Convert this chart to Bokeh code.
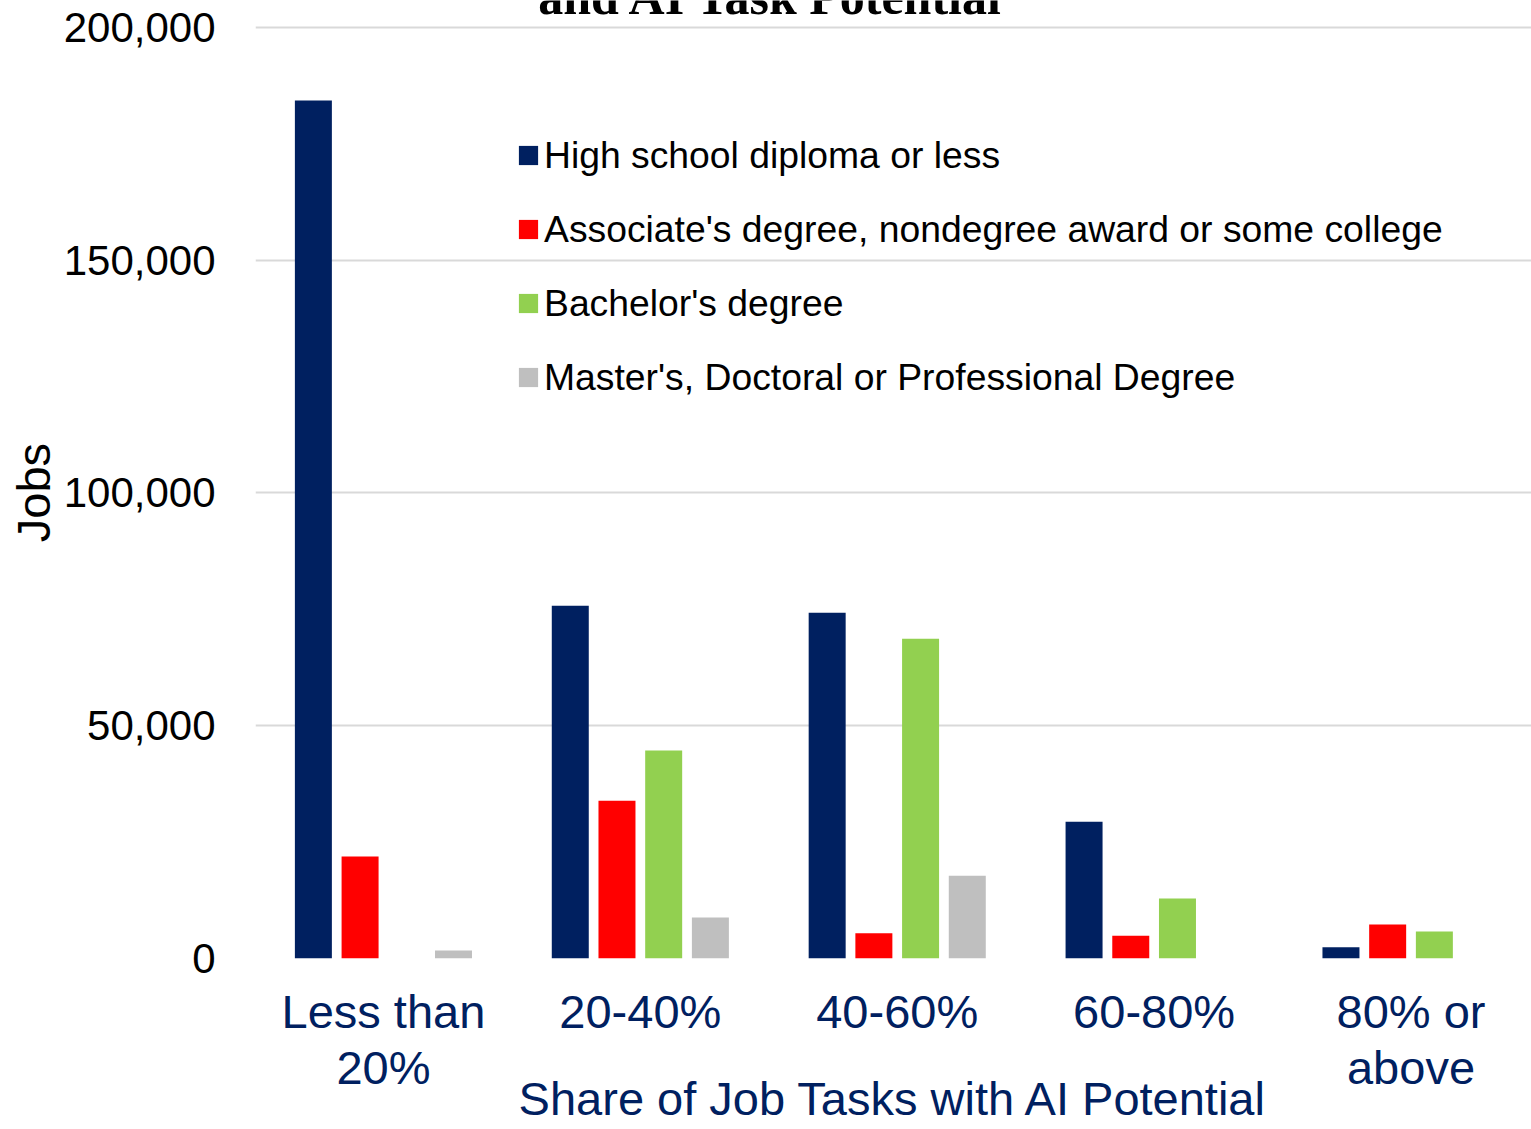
from bokeh.plotting import figure
from bokeh.models import (ColumnDataSource, Range1d, FixedTicker, NumeralTickFormatter,
                          Legend, LegendItem, Label)
from bokeh.transform import dodge
from bokeh.embed import file_html
from bokeh.resources import INLINE

# data
categories = ["Less than\n20%", "20-40%", "40-60%", "60-80%", "80% or\nabove"]
series = ["High school diploma or less",
          "Associate's degree, nondegree award or some college",
          "Bachelor's degree",
          "Master's, Doctoral or Professional Degree"]
high_school = [184300, 75800, 74300, 29400, 2400]
associate = [21900, 33900, 5400, 4900, 7300]
bachelor = [0, 44700, 68700, 12900, 5800]
master = [1700, 8800, 17800, 0, 0]
y_ticks = [0, 50000, 100000, 150000, 200000]

colors = ["#002060", "#FF0000", "#92D050", "#BFBFBF"]
navy = "#002060"
font = "Liberation Sans"

source = ColumnDataSource(data=dict(
    x=list(range(len(categories))),
    hs=high_school, assoc=associate, bach=bachelor, mast=master,
))

# frame runs to the top edge so the cut-off title can sit inside it
p = figure(width=1531, height=1129, output_backend="svg", toolbar_location=None,
           x_range=Range1d(-0.498, 4.469), y_range=Range1d(0, 205800),
           min_border_left=255, min_border_right=0, min_border_top=0,
           min_border_bottom=171)
p.outline_line_color = None

step = 0.1818
renderers = []
for i, col in enumerate(["hs", "assoc", "bach", "mast"]):
    r = p.vbar(x=dodge("x", (i - 1.5) * step, range=p.x_range), top=col, width=0.144,
               source=source, fill_color=colors[i], line_color=None)
    renderers.append(r)

# y axis
p.yaxis.ticker = FixedTicker(ticks=y_ticks)
p.yaxis.formatter = NumeralTickFormatter(format="0,0")
p.yaxis.major_label_text_font = font
p.yaxis.major_label_text_font_size = "42px"
p.yaxis.major_label_text_color = "black"
p.yaxis.axis_line_color = None
p.yaxis.major_tick_line_color = None
p.yaxis.minor_tick_line_color = None
p.yaxis.major_tick_out = 0
p.yaxis.major_label_standoff = 40
# trailing no-break spaces nudge the label down to sit on the 100,000 line
p.yaxis.axis_label = "Jobs\u00a0\u00a0"
p.yaxis.axis_label_text_font = font
p.yaxis.axis_label_text_font_size = "47px"
p.yaxis.axis_label_text_font_style = "normal"
p.yaxis.axis_label_text_color = "black"
p.yaxis.axis_label_standoff = 1

# x axis
p.xaxis.ticker = FixedTicker(ticks=list(range(len(categories))))
p.xaxis.major_label_overrides = {i: c for i, c in enumerate(categories)}
p.xaxis.major_label_text_font = font
p.xaxis.major_label_text_font_size = "47px"
p.xaxis.major_label_text_line_height = 1.07
p.xaxis.major_label_text_color = navy
p.xaxis.axis_line_color = None
p.xaxis.major_tick_line_color = None
p.xaxis.minor_tick_line_color = None
p.xaxis.major_tick_out = 0
p.xaxis.major_label_standoff = 26
p.xaxis.axis_label = "Share of Job Tasks with AI Potential"
p.xaxis.axis_label_text_font = font
p.xaxis.axis_label_text_font_size = "47px"
p.xaxis.axis_label_text_font_style = "normal"
p.xaxis.axis_label_text_color = navy
p.xaxis.axis_label_standoff = -25

p.xgrid.visible = False
p.ygrid.ticker = FixedTicker(ticks=y_ticks)
p.ygrid.grid_line_color = "#d9d9d9"
p.ygrid.grid_line_width = 2

legend = Legend(items=[LegendItem(label=s, renderers=[r]) for s, r in zip(series, renderers)],
                location=(261, 559), padding=0, margin=0, spacing=30,
                label_height=44, glyph_width=24, glyph_height=24, label_standoff=4,
                label_text_font=font, label_text_font_size="37.3px",
                label_text_color="black", border_line_color=None,
                background_fill_alpha=0)
p.add_layout(legend)

# title, cut off at the top of the picture
p.add_layout(Label(x=1.51, y=206500, text="and AI Task Potential",
                   text_align="center", text_baseline="alphabetic",
                   text_font="Liberation Serif", text_font_style="bold",
                   text_font_size="50px", text_color="black"))

open("out.html", "w").write(file_html(p, INLINE))
